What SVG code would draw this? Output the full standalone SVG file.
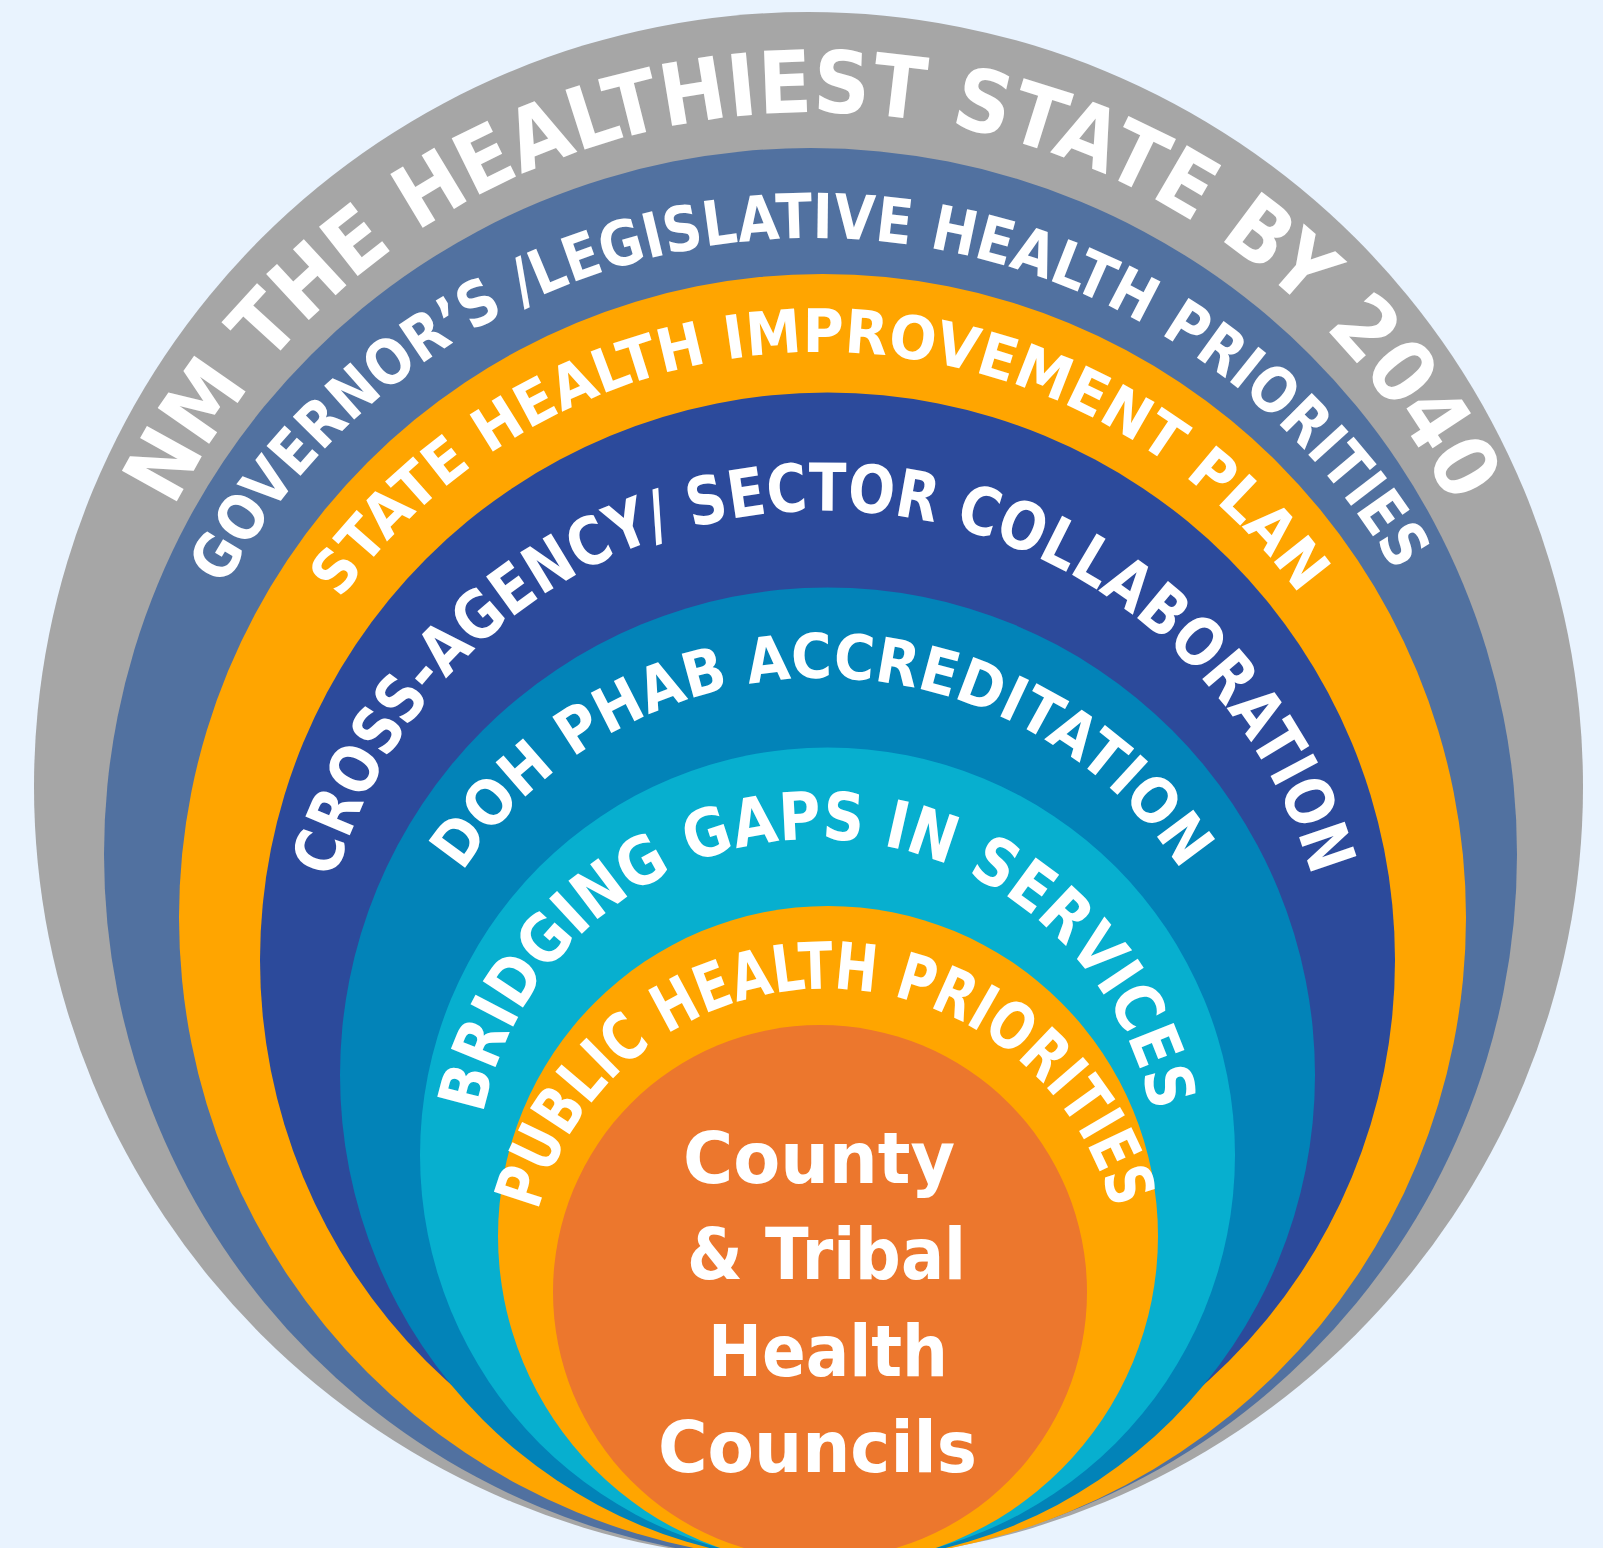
<svg xmlns="http://www.w3.org/2000/svg" width="1603" height="1555" viewBox="0 0 1603 1555">
  <style>
    .ring-text { font-family: "DejaVu Sans", "Liberation Sans", sans-serif; font-weight: bold; fill: #FFFFFF; }
    .core-text { font-family: "DejaVu Sans", "Liberation Sans", sans-serif; font-weight: bold; fill: #FFFFFF; font-size: 71px; }
  </style>
  <defs>
    <path id="p1" d="M 174.0 507.7 A 714 714 0 0 1 1452.0 507.7"/>
    <path id="p2" d="M 224.7 586.5 A 672.5 672.5 0 0 1 1396.4 574.2"/>
    <path id="p3" d="M 340.4 599.3 A 591.7 591.7 0 0 1 1300.8 596.7"/>
    <path id="p4" d="M 335.4 878.7 A 508.3 508.3 0 0 1 1312.6 878.7"/>
    <path id="p5" d="M 462.6 872.2 A 430.6 430.6 0 0 1 1182.4 872.2"/>
    <path id="p6" d="M 483.1 1114.2 A 340.8 340.8 0 0 1 1151.9 1114.2"/>
    <path id="p7" d="M 538.2 1211.0 A 296.8 296.8 0 0 1 1112.8 1211.0"/>
  </defs>
  <rect x="0" y="0" width="1603" height="1555" fill="#E9F3FE"/>

  <g id="ring-vision">
    <circle cx="808.5" cy="786.5" r="774.5" fill="#A6A6A6"/>
  </g>
  <g id="ring-governor">
    <circle cx="810.5" cy="854.5" r="706.5" fill="#5171A0"/>
  </g>
  <g id="ring-state-plan">
    <circle cx="822.5" cy="917.5" r="643.5" fill="#FFA500"/>
  </g>
  <g id="ring-cross-agency">
    <circle cx="827.5" cy="960" r="567.5" fill="#2C4A9B"/>
  </g>
  <g id="ring-phab">
    <circle cx="827.5" cy="1075" r="487.5" fill="#0283B8"/>
  </g>
  <g id="ring-bridging">
    <circle cx="827.5" cy="1155" r="407.5" fill="#07AFCF"/>
  </g>
  <g id="ring-public-health">
    <circle cx="828" cy="1236" r="330" fill="#FFA500"/>
  </g>
  <g id="core-councils">
    <circle cx="820" cy="1292" r="267" fill="#EC772D"/>
  </g>

  <rect x="0" y="1548" width="1603" height="7" fill="#FFFFFF"/>

  <g id="labels">
    <text class="ring-text" font-size="86"><textPath href="#p1" textLength="1580" lengthAdjust="spacingAndGlyphs">NM THE HEALTHIEST STATE BY 2040</textPath></text>
    <text class="ring-text" font-size="62"><textPath href="#p2" textLength="1420" lengthAdjust="spacingAndGlyphs">GOVERNOR’S /LEGISLATIVE HEALTH PRIORITIES</textPath></text>
    <text class="ring-text" font-size="60"><textPath href="#p3" textLength="1118" lengthAdjust="spacingAndGlyphs">STATE HEALTH IMPROVEMENT PLAN</textPath></text>
    <text class="ring-text" font-size="66"><textPath href="#p4" textLength="1310" lengthAdjust="spacingAndGlyphs">CROSS-AGENCY/ SECTOR COLLABORATION</textPath></text>
    <text class="ring-text" font-size="62"><textPath href="#p5" textLength="850" lengthAdjust="spacingAndGlyphs">DOH PHAB ACCREDITATION</textPath></text>
    <text class="ring-text" font-size="66"><textPath href="#p6" textLength="936" lengthAdjust="spacingAndGlyphs">BRIDGING GAPS IN SERVICES</textPath></text>
    <text class="ring-text" font-size="65"><textPath href="#p7" textLength="780" lengthAdjust="spacingAndGlyphs">PUBLIC HEALTH PRIORITIES</textPath></text>

    <text class="core-text" x="683" y="1183" textLength="272" lengthAdjust="spacingAndGlyphs">County</text>
    <text class="core-text" x="687" y="1279" textLength="279" lengthAdjust="spacingAndGlyphs">&amp; Tribal</text>
    <text class="core-text" x="708" y="1376" textLength="240" lengthAdjust="spacingAndGlyphs">Health</text>
    <text class="core-text" x="658" y="1472" textLength="319" lengthAdjust="spacingAndGlyphs">Councils</text>
  </g>
</svg>
